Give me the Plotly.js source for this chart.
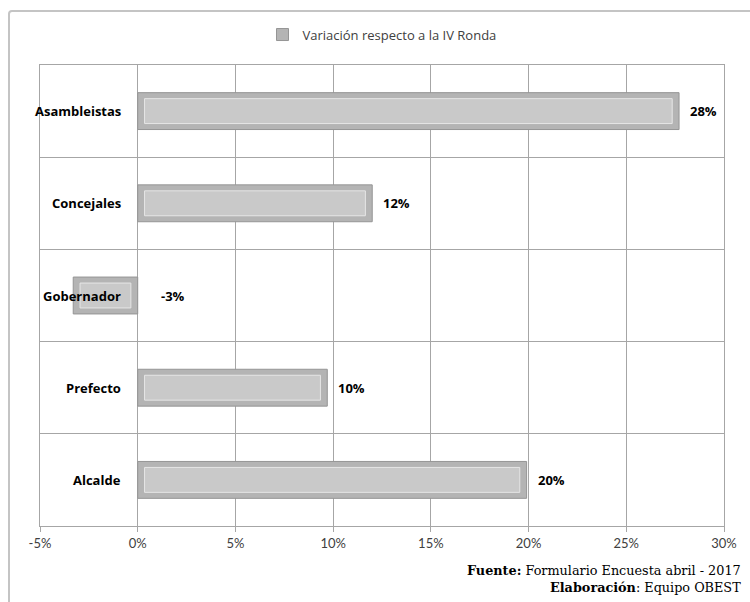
<!DOCTYPE html>
<html>
<head>
<meta charset="utf-8">
<script src="https://cdn.plot.ly/plotly-3.0.1.min.js"></script>
<style>
  html, body { margin: 0; padding: 0; background: #ffffff; }
  #wrap { position: relative; width: 750px; height: 602px; overflow: hidden; }
  #chart { width: 750px; height: 602px; }
  #frame { position: absolute; left: 8px; top: 10px; width: 800px; height: 700px;
           border: 2px solid #c4c4c4; border-radius: 4px; pointer-events: none; box-sizing: border-box; }
</style>
</head>
<body>
<div id="wrap">
  <div id="chart"></div>
  <div id="frame"></div>
</div>
<script>
// Categories listed top to bottom
const categories = ['Asambleistas', 'Concejales', 'Gobernador', 'Prefecto', 'Alcalde'];
// Variation values (percent)
const values = [27.7, 12.0, -3.3, 9.7, 19.9];
const seriesName = 'Variación respecto a la IV Ronda';
const xTicks = [-5, 0, 5, 10, 15, 20, 25, 30];
const fuente = 'Formulario Encuesta abril - 2017';
const elaboracion = 'Equipo OBEST';

const inset = 0.35;
const sans = 'Lato, "Open Sans", sans-serif';
const wide = '"Open Sans", Lato, sans-serif';
const serif = '"DejaVu Serif", "Liberation Serif", serif';

const outer = {
  type: 'bar', orientation: 'h', name: seriesName,
  y: categories, x: values, width: 0.4,
  marker: { color: '#b4b4b4', line: { color: '#959595', width: 1 } },
  hoverinfo: 'skip', showlegend: true
};
const inner = {
  type: 'bar', orientation: 'h', name: seriesName,
  y: categories,
  x: values.map(v => v - 2 * Math.sign(v) * inset),
  base: values.map(v => Math.sign(v) * inset),
  width: 0.27,
  marker: { color: '#c9c9c9', line: { color: '#e6e6e6', width: 1 } },
  hoverinfo: 'skip', showlegend: false
};

const annotations = [];
categories.forEach((c, i) => {
  annotations.push({
    xref: 'x', yref: 'y', x: 0, y: c, xanchor: 'right', yanchor: 'middle',
    xshift: -15, showarrow: false, text: '<b>' + c + '</b>',
    font: { family: wide, size: 13, color: '#000000' }
  });
  const v = values[i];
  annotations.push({
    xref: 'x', yref: 'y', x: Math.max(v, 0), y: c, xanchor: 'left', yanchor: 'middle',
    xshift: v < 0 ? 21 : 9, showarrow: false, text: '<b>' + Math.round(v) + '%</b>',
    font: { family: wide, size: 13, color: '#000000' }
  });
});
annotations.push({
  xref: 'paper', yref: 'paper', x: 1, y: 0, xanchor: 'right', yanchor: 'top',
  xshift: 19, yshift: -35, showarrow: false, align: 'right',
  text: '<b>Fuente:</b> ' + fuente,
  font: { family: serif, size: 12.8, color: '#000000' }
});
annotations.push({
  xref: 'paper', yref: 'paper', x: 1, y: 0, xanchor: 'right', yanchor: 'top',
  xshift: 19, yshift: -52, showarrow: false, align: 'right',
  text: '<b>Elaboración</b>: ' + elaboracion,
  font: { family: serif, size: 12.8, color: '#000000' }
});

const layout = {
  width: 750, height: 602,
  margin: { l: 40, r: 26, t: 65, b: 76 },
  paper_bgcolor: '#ffffff', plot_bgcolor: '#ffffff',
  barmode: 'overlay',
  showlegend: true,
  legend: {
    orientation: 'h', x: 0.5, xanchor: 'center', y: 1.066, yanchor: 'middle',
    itemwidth: 30,
    font: { family: wide, size: 13, color: '#404040' }
  },
  xaxis: {
    range: [-5, 30], tickvals: xTicks, ticktext: xTicks.map(t => t + '%'),
    showgrid: true, gridcolor: '#a6a6a6', gridwidth: 1,
    zeroline: false, showline: true, linecolor: '#a6a6a6', mirror: true,
    ticks: 'outside', ticklen: 5, tickcolor: '#a6a6a6',
    tickfont: { family: sans, size: 13, color: '#404040' }, fixedrange: true
  },
  yaxis: {
    type: 'category', categoryorder: 'array', categoryarray: categories.slice().reverse(),
    tickson: 'boundaries', showticklabels: false, ticks: '',
    showgrid: true, gridcolor: '#a6a6a6', gridwidth: 1,
    showline: true, linecolor: '#a6a6a6', mirror: true, zeroline: false, fixedrange: true
  },
  annotations: annotations
};

Plotly.newPlot('chart', [outer, inner], layout, { displayModeBar: false, staticPlot: true });
</script>
</body>
</html>
